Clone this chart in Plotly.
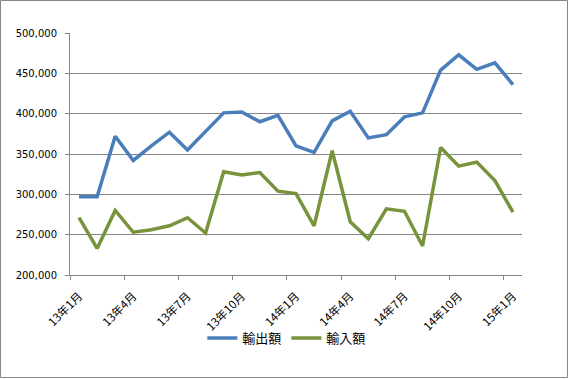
import plotly.graph_objects as go

months = ["13年1月","13年2月","13年3月","13年4月","13年5月","13年6月","13年7月","13年8月","13年9月",
          "13年10月","13年11月","13年12月","14年1月","14年2月","14年3月","14年4月","14年5月","14年6月",
          "14年7月","14年8月","14年9月","14年10月","14年11月","14年12月","15年1月"]
exports = [297000, 297000, 372000, 342000, 360000, 377000, 355000, 378000, 401000,
           402000, 390000, 398000, 360000, 352000, 391000, 403000, 370000, 374000,
           396000, 401000, 454000, 473000, 455000, 463000, 436000]
imports = [271000, 233000, 280000, 253000, 256000, 261000, 271000, 252000, 328000,
           324000, 327000, 304000, 301000, 261000, 354000, 266000, 245000, 282000,
           279000, 236000, 358000, 335000, 340000, 317000, 278000]

idx = list(range(len(months)))
label_idx = idx[::3]
label_txt = [months[i] for i in label_idx]
boundary = [i - 0.5 for i in label_idx]

fig = go.Figure()
fig.add_trace(go.Scatter(x=idx, y=exports, mode="lines", name="輸出額",
                         line=dict(color="#4A7EBB", width=3.5)))
fig.add_trace(go.Scatter(x=idx, y=imports, mode="lines", name="輸入額",
                         line=dict(color="#77933C", width=3.5)))
# invisible trace to activate tick-mark axis
fig.add_trace(go.Scatter(x=[0], y=[None], xaxis="x2", showlegend=False, hoverinfo="skip"))

rng = [-0.5, len(months) - 0.5]
fig.update_layout(
    width=568, height=379,
    margin=dict(l=70, r=46, t=33, b=104, autoexpand=False),
    paper_bgcolor="white", plot_bgcolor="white",
    showlegend=True,
    legend=dict(orientation="h", xref="container", yref="container",
                x=0.505, xanchor="center", y=0.108, yanchor="middle",
                bgcolor="rgba(0,0,0,0)",
                font=dict(family="Noto Sans CJK JP", size=13, color="#000"),
                itemwidth=30, tracegroupgap=0),
    xaxis=dict(range=rng, tickvals=label_idx, ticktext=label_txt, tickangle=-45,
               ticks="outside", ticklen=9, tickcolor="rgba(0,0,0,0)",
               showline=True, linecolor="#868686", linewidth=1,
               showgrid=False, zeroline=False, automargin=False,
               tickfont=dict(family="Noto Sans CJK JP", size=11.5, color="#000")),
    xaxis2=dict(range=rng, overlaying="x", side="bottom", tickvals=boundary,
                ticks="outside", ticklen=4, tickcolor="#868686", automargin=False,
                showticklabels=False, showgrid=False, zeroline=False, showline=False),
    yaxis=dict(range=[200000, 500000], dtick=50000, tickformat=",",
               showgrid=True, gridcolor="#868686", gridwidth=1,
               showline=True, linecolor="#868686", linewidth=1,
               ticks="outside", ticklen=4, tickcolor="#868686",
               zeroline=False, ticklabelstandoff=6, automargin=False,
               tickfont=dict(family="DejaVu Sans", size=10, color="#000")),
    shapes=[dict(type="rect", xref="paper", yref="paper",
                 x0=-69.5/452, x1=(567.5-70)/452, y0=(275-377.5)/242, y1=(275-0.5)/242,
                 line=dict(color="#888888", width=1), fillcolor="rgba(0,0,0,0)")],
)
fig.write_html("out.html", config={"displayModeBar": False},
               post_script="document.body.style.margin='0';document.body.style.overflow='hidden';")
